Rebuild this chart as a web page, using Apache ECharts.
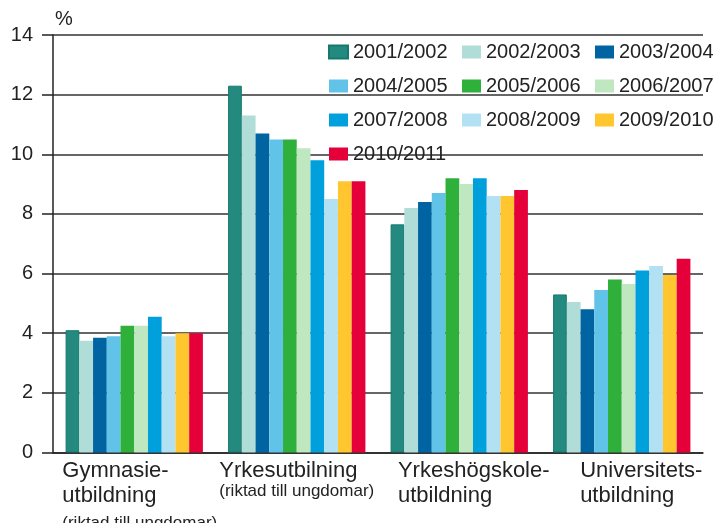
<!DOCTYPE html>
<html><head><meta charset="utf-8">
<script src="https://cdn.jsdelivr.net/npm/echarts@6/dist/echarts.min.js"></script>
<style>html,body{margin:0;padding:0;background:#fff}#c{width:715px;height:523px}</style>
</head><body><div id="c"></div>
<script>
const categories = ['Gymnasieutbildning (riktad till ungdomar)', 'Yrkesutbilning (riktad till ungdomar)', 'Yrkeshögskoleutbildning', 'Universitetsutbildning'];
const categoryLines = [['Gymnasie-', 'utbildning'], ['Yrkesutbilning'], ['Yrkeshögskole-', 'utbildning'], ['Universitets-', 'utbildning']];
const categorySub = ['(riktad till ungdomar)', '(riktad till ungdomar)', '', ''];
const seriesNames = ['2001/2002', '2002/2003', '2003/2004', '2004/2005', '2005/2006', '2006/2007', '2007/2008', '2008/2009', '2009/2010', '2010/2011'];
const s2001 = [4.1, 12.3, 7.65, 5.3];
const s2002 = [3.75, 11.3, 8.2, 5.05];
const s2003 = [3.85, 10.7, 8.4, 4.8];
const s2004 = [3.9, 10.5, 8.7, 5.45];
const s2005 = [4.25, 10.5, 9.2, 5.8];
const s2006 = [4.25, 10.2, 9.0, 5.65];
const s2007 = [4.55, 9.8, 9.2, 6.1];
const s2008 = [3.9, 8.5, 8.6, 6.25];
const s2009 = [4.0, 9.1, 8.6, 5.95];
const s2010 = [4.0, 9.1, 8.8, 6.5];
const seriesValues = [s2001, s2002, s2003, s2004, s2005, s2006, s2007, s2008, s2009, s2010];
const yTicks = [0, 2, 4, 6, 8, 10, 12, 14];

const colors = ['#248a80', '#b0ddd8', '#0064a2', '#62c3e9', '#2fb03a', '#bfe7c0', '#00a0dc', '#b3e1f4', '#ffc62f', '#e5003a'];
const labelShift = [11, 0, 29, 39];

const chart = echarts.init(document.getElementById('c'), null, {renderer: 'canvas'});
const font = 'Liberation Sans, Arial, sans-serif';
chart.setOption({
  animation: false,
  color: colors,
  textStyle: {fontFamily: font},
  grid: {left: 53, right: 12, top: 35, bottom: 70.5, containLabel: false, outerBoundsMode: 'none'},
  legend: {
    left: 328, top: 42, width: 400, padding: 0,
    itemWidth: 19, itemHeight: 13, itemGap: 14,
    icon: 'rect',
    textStyle: {fontSize: 20, width: 95, lineHeight: 16, color: '#222', fontFamily: font},
    data: seriesNames
  },
  xAxis: {
    type: 'category',
    data: categories.map((c, i) => ({value: c, textStyle: {padding: [0, 0, 0, labelShift[i]]}})),
    axisLine: {lineStyle: {color: '#222', width: 1.5}},
    axisTick: {show: false},
    axisLabel: {
      interval: 0, margin: 6, color: '#222', fontFamily: font,
      formatter: function (v, i) {
        const lines = categoryLines[i].map(t => '{m|' + t + '}');
        if (categorySub[i]) {
          lines.push((categoryLines[i].length === 1 ? '{s1|' : '{s2|') + categorySub[i] + '}');
        }
        return lines.join('\n');
      },
      rich: {
        m: {fontSize: 22, lineHeight: 25, align: 'left', color: '#222', fontFamily: font},
        s1: {fontSize: 17, lineHeight: 15, align: 'left', color: '#222', fontFamily: font},
        s2: {fontSize: 17, lineHeight: 30, align: 'left', color: '#222', fontFamily: font}
      }
    }
  },
  yAxis: {
    type: 'value', min: yTicks[0], max: yTicks[yTicks.length - 1], interval: 2,
    name: '%', nameLocation: 'end', nameGap: 16,
    nameTextStyle: {fontSize: 20, align: 'left', verticalAlign: 'middle', color: '#222', padding: [0, 0, 0, 2], fontFamily: font},
    axisLine: {show: true, lineStyle: {color: '#222', width: 1.5}},
    axisTick: {show: true, length: 11, lineStyle: {color: '#222', width: 1.5}},
    axisLabel: {fontSize: 20, margin: 20, color: '#222', fontFamily: font},
    splitLine: {show: true, lineStyle: {color: '#333', width: 1.5}}
  },
  series: seriesNames.map((n, k) => ({
    name: n, type: 'bar', data: seriesValues[k],
    barGap: '0%', barCategoryGap: '15.5%',
    itemStyle: k === 0 ? {borderColor: '#157a6c', borderWidth: 1} : {}
  }))
});
</script>
</body></html>
